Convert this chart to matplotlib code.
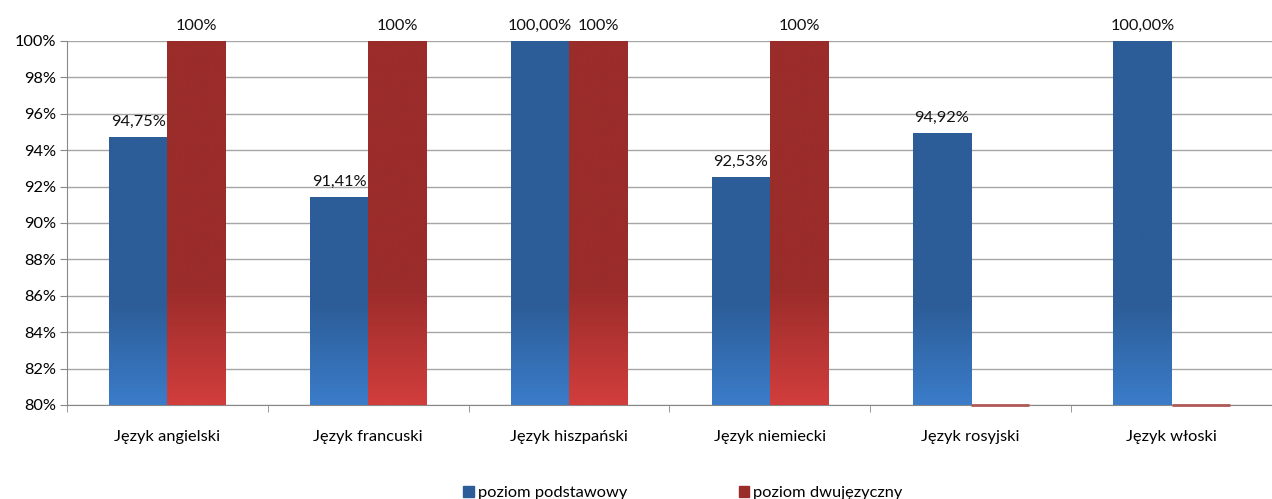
import numpy as np
import matplotlib.pyplot as plt
from matplotlib.colors import LinearSegmentedColormap
from matplotlib.patches import Patch

plt.rcParams['font.family'] = ['Lato', 'DejaVu Sans']

# Data
categories = ['Język angielski', 'Język francuski', 'Język hiszpański',
              'Język niemiecki', 'Język rosyjski', 'Język włoski']
podstawowy = [94.75, 91.41, 100.00, 92.53, 94.92, 100.00]
dwujezyczny = [100, 100, 100, 100, 0, 0]
podst_labels = ['94,75%', '91,41%', '100,00%', '92,53%', '94,92%', '100,00%']
dwuj_labels = ['100%', '100%', '100%', '100%', '', '']
yticks = list(range(80, 101, 2))
ytick_labels = [f'{t}%' for t in yticks]

blue_top, blue_bot = '#2C5D98', '#3B7CC9'
red_top, red_bot = '#9A2C2A', '#D13E3D'
fs = 11.8

fig = plt.figure(figsize=(12.72, 4.99), dpi=100)
ax = fig.add_axes([67 / 1272, 94 / 499, 1 - 67 / 1272, 364 / 499])

x = np.arange(len(categories))
w = 0.29
ymin, ymax = 80, 100


def gradient_bars(xs, vals, top, bot, start):
    cmap = LinearSegmentedColormap.from_list(
        'g', [(0, bot), ((start - ymin) / (ymax - ymin), top), (1, top)])
    grad = np.linspace(0, 1, 256).reshape(-1, 1)
    bars = ax.bar(xs, vals, w, color='none', edgecolor='none', zorder=3)
    for b, v in zip(bars, vals):
        if v <= ymin:
            # zero value: thin line on the axis floor
            ax.plot([b.get_x(), b.get_x() + w], [ymin, ymin], color='#B05A58',
                    lw=2, zorder=4, clip_on=False, solid_capstyle='butt')
            continue
        im = ax.imshow(grad, cmap=cmap, origin='lower', aspect='auto',
                       extent=[b.get_x(), b.get_x() + w, ymin, ymax],
                       zorder=3, interpolation='bilinear')
        im.set_clip_path(b)
    return bars


b1 = gradient_bars(x - w / 2, podstawowy, blue_top, blue_bot, 85.5)
b2 = gradient_bars(x + w / 2, dwujezyczny, red_top, red_bot, 86.5)
ax.set_xlim(-0.5, len(categories) - 0.5)
ax.set_ylim(ymin, ymax)

for xi, v, lab in zip(x - w / 2, podstawowy, podst_labels):
    ax.annotate(lab, (xi, v), xytext=(0, 8), textcoords='offset points',
                ha='center', va='baseline', fontsize=fs, color='#111111')
for xi, v, lab in zip(x + w / 2, dwujezyczny, dwuj_labels):
    if lab:
        ax.annotate(lab, (xi, v), xytext=(0, 8), textcoords='offset points',
                    ha='center', va='baseline', fontsize=fs, color='#111111')

ax.set_yticks(yticks)
ax.set_yticklabels(ytick_labels, fontsize=fs)
ax.set_xticks(x)
ax.set_xticklabels(categories, fontsize=fs)
ax.set_xticks(np.arange(len(categories) + 1) - 0.5, minor=True)
ax.tick_params(axis='x', which='major', length=0, pad=18)
ax.tick_params(axis='x', which='minor', length=5, color='#888888')
ax.tick_params(axis='y', length=5, color='#888888', pad=3)
ax.yaxis.grid(True, color='#A6A6A6', lw=1)
ax.set_axisbelow(True)
for s in ['top', 'right']:
    ax.spines[s].set_visible(False)
for s in ['left', 'bottom']:
    ax.spines[s].set_color('#888888')

handles = [Patch(color=blue_top), Patch(color=red_top)]
fig.legend(handles, ['poziom podstawowy', 'poziom dwujęzyczny'],
           loc='center', bbox_to_anchor=(683 / 1272, 6 / 499), ncol=2,
           frameon=False, fontsize=fs, handlelength=0.65, handleheight=0.65,
           handletextpad=0.25, columnspacing=6.8, borderpad=0)

fig.savefig('out.png', dpi=100)
